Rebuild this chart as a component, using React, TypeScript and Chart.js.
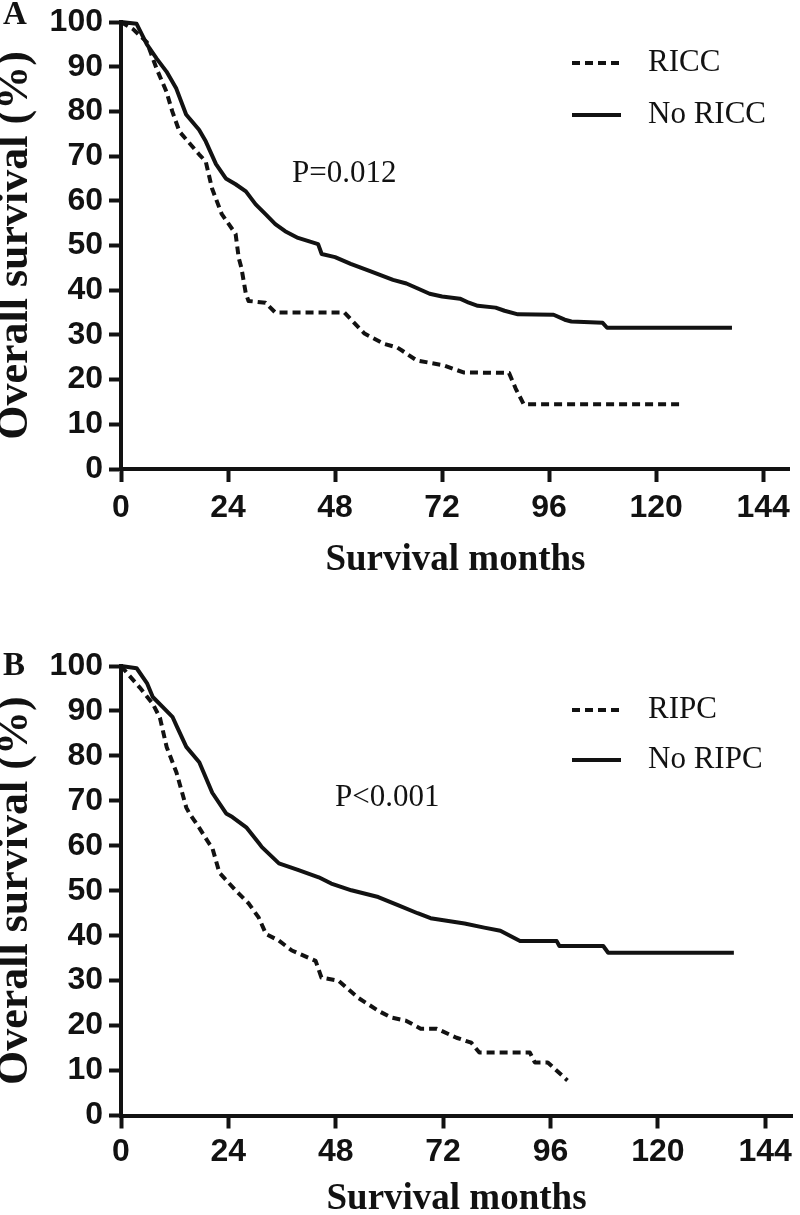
import { useEffect, useRef } from 'react';
import { Chart, registerables } from 'chart.js';

Chart.register(...registerables);

// ---------- data ----------
const MONTH_TICKS = [0, 24, 48, 72, 96, 120, 144];
const SURVIVAL_TICKS = [0, 10, 20, 30, 40, 50, 60, 70, 80, 90, 100];
const X_TITLE = 'Survival months';
const Y_TITLE = 'Overall survival (%)';

// Panel A
const A_LABELS = ['RICC', 'No RICC'];
const A_P_TEXT = 'P=0.012';
const A_RICC_MONTHS = [0, 2.7, 5.8, 8, 10.2, 11.5, 13.1, 17.5, 19, 20.4, 22.6, 25.7, 26.4, 27, 28, 28.6, 32.4, 34.6, 50.1, 52, 54.6, 59, 61.9, 63, 66.3, 72.3, 76.8, 87, 88.5, 90.3, 126];
const A_RICC_SURV = [100, 98.4, 95.5, 89.5, 84.4, 80, 75.5, 70.4, 68.8, 62.8, 57, 52.6, 47.2, 45, 39.2, 37.6, 37.2, 35, 35, 33, 30.3, 28, 27.2, 26.5, 24.3, 23.2, 21.6, 21.5, 18, 14.5, 14.5];
const A_NO_RICC_MONTHS = [0, 3.5, 5.8, 8, 10.2, 12.4, 14.6, 17.5, 19, 21.3, 23.5, 25.7, 28, 30.2, 32.4, 34.6, 36.8, 39.7, 44.2, 45, 48, 51.5, 56, 61, 64, 66.3, 69.2, 72, 76, 78, 80, 84, 86, 89, 97, 99.5, 101, 108, 109, 137];
const A_NO_RICC_SURV = [100, 99.6, 95, 91.8, 88.9, 85.1, 79.3, 75.9, 73.3, 68.2, 65, 63.7, 62.1, 59.2, 57, 54.8, 53.2, 51.7, 50.3, 48.1, 47.4, 45.9, 44.2, 42.3, 41.5, 40.5, 39.2, 38.6, 38.1, 37.2, 36.5, 36.1, 35.4, 34.6, 34.5, 33.4, 33, 32.7, 31.6, 31.6];

// Panel B
const B_LABELS = ['RIPC', 'No RIPC'];
const B_P_TEXT = 'P<0.001';
const B_RIPC_MONTHS = [0, 1.3, 4.2, 7.1, 8.7, 10.2, 12.4, 14.6, 15.3, 17.5, 19.7, 20.4, 22, 25.7, 26.4, 28.6, 30.8, 32.4, 35.3, 38.2, 43.5, 44.8, 48.6, 53, 57.5, 60.4, 63.7, 67, 70.6, 75, 78.3, 80.1, 91.4, 92.5, 95.4, 99.8];
const B_RIPC_SURV = [100, 98.5, 95.2, 91.6, 88.5, 82, 76.3, 68.5, 67.2, 64, 60.5, 59.6, 54, 50, 49.3, 47.1, 44, 40.4, 38.9, 36.7, 34.4, 30.7, 30, 26.2, 23.3, 21.8, 21.1, 19.3, 19.3, 17.3, 16.2, 14, 14, 11.8, 11.8, 7.8];
const B_NO_RIPC_MONTHS = [0, 3.5, 5.8, 7.1, 9.3, 11.5, 12.5, 14.6, 17.5, 20.4, 23.5, 24.9, 28, 30.8, 31.5, 35.3, 39.7, 44.2, 47, 51.5, 57.5, 61.9, 66.3, 69.2, 76.8, 81.2, 84.8, 89.2, 97.4, 98, 107.8, 108.9, 137];
const B_NO_RIPC_SURV = [100, 99.5, 96.2, 93.1, 90.9, 88.7, 86.5, 82, 78.6, 71.8, 67.2, 66.4, 64.1, 60.6, 59.7, 56.1, 54.6, 53, 51.6, 50.1, 48.6, 46.8, 45, 43.9, 42.7, 41.8, 41.1, 38.8, 38.8, 37.7, 37.7, 36.2, 36.2];

// ---------- styles ----------
const INK = '#121212';
const SANS = '"Liberation Sans", Arial, sans-serif';
const SERIF = '"Liberation Serif", "Times New Roman", serif';

type PanelProps = {
  letter: string;
  labels: string[];
  pText: string;
  dashedMonths: number[];
  dashedSurv: number[];
  solidMonths: number[];
  solidSurv: number[];
  height: number;
  padTop: number;
  xAxisHeight: number;
  xTitlePad: number;
  tickPad: number;
  letterY: number;
  legendY: number[];
  pPos: number[];
};

function KMPanel(p: PanelProps) {
  const ref = useRef<HTMLCanvasElement>(null);
  useEffect(() => {
    const canvas = ref.current;
    if (!canvas) return;
    const toPts = (xs: number[], ys: number[]) => xs.map((x, i) => ({ x, y: ys[i] }));
    const annot = {
      id: 'annot',
      afterDraw(chart: any) {
        const ctx = chart.ctx as CanvasRenderingContext2D;
        ctx.save();
        ctx.fillStyle = INK;
        ctx.font = `bold 33px ${SERIF}`;
        ctx.textAlign = 'left';
        ctx.textBaseline = 'middle';
        ctx.fillText(p.letter, 3, p.letterY);
        chart.data.datasets.forEach((ds: any, i: number) => {
          const y = p.legendY[i];
          ctx.beginPath();
          ctx.lineWidth = ds.borderWidth;
          ctx.strokeStyle = ds.borderColor;
          ctx.setLineDash(ds.borderDash || []);
          ctx.lineCap = 'butt';
          ctx.moveTo(572, y);
          ctx.lineTo(621, y);
          ctx.stroke();
          ctx.setLineDash([]);
          ctx.font = `31px ${SERIF}`;
          ctx.textAlign = 'left';
          ctx.textBaseline = 'middle';
          ctx.fillText(ds.label, 648, y);
        });
        ctx.font = `31px ${SERIF}`;
        ctx.textAlign = 'left';
        ctx.textBaseline = 'middle';
        ctx.fillText(p.pText, p.pPos[0], p.pPos[1]);
        ctx.restore();
      },
    };
    const common = {
      borderColor: INK,
      borderWidth: 4,
      pointRadius: 0,
      pointHoverRadius: 0,
      fill: false,
      tension: 0,
      clip: false as any,
      borderJoinStyle: 'round' as const,
      borderCapStyle: 'butt' as const,
    };
    const chart = new Chart(canvas, {
      type: 'line',
      data: {
        datasets: [
          { ...common, label: p.labels[0], data: toPts(p.dashedMonths, p.dashedSurv), borderDash: [8, 5] },
          { ...common, label: p.labels[1], data: toPts(p.solidMonths, p.solidSurv), borderDash: [] },
        ],
      },
      options: {
        responsive: false,
        maintainAspectRatio: false,
        animation: false,
        events: [],
        layout: { padding: { top: p.padTop, right: 3, bottom: 0, left: 0 } },
        plugins: { legend: { display: false }, tooltip: { enabled: false } },
        scales: {
          x: {
            type: 'linear',
            min: 0,
            max: 150,
            afterBuildTicks: (s: any) => { s.ticks = MONTH_TICKS.map((v) => ({ value: v })); },
            afterFit: (s: any) => { s.height = p.xAxisHeight; },
            ticks: {
              color: INK,
              font: { family: SANS, size: 32, weight: 'bold', lineHeight: 1 },
              padding: p.tickPad,
              maxRotation: 0,
              autoSkip: false,
            },
            grid: { display: true, drawOnChartArea: false, drawTicks: true, tickLength: 13, tickWidth: 4, tickColor: INK },
            border: { display: true, color: INK, width: 4 },
            title: {
              display: true,
              text: X_TITLE,
              color: INK,
              font: { family: SERIF, size: 37, weight: 'bold', lineHeight: 1 },
              padding: { top: 0, bottom: p.xTitlePad },
            },
          },
          y: {
            type: 'linear',
            min: 0,
            max: 100,
            afterBuildTicks: (s: any) => { s.ticks = SURVIVAL_TICKS.map((v) => ({ value: v })); },
            afterFit: (s: any) => { s.width = 121; },
            ticks: {
              color: INK,
              font: { family: SANS, size: 32, weight: 'bold', lineHeight: 1 },
              padding: 6,
              autoSkip: false,
            },
            grid: { display: true, drawOnChartArea: false, drawTicks: true, tickLength: 12, tickWidth: 4, tickColor: INK },
            border: { display: true, color: INK, width: 4 },
            title: {
              display: true,
              text: Y_TITLE,
              color: INK,
              font: { family: SERIF, size: 44, weight: 'bold', lineHeight: 1 },
              padding: { top: -6, bottom: 0 },
            },
          },
        },
      } as any,
      plugins: [annot],
    });
    return () => chart.destroy();
  }, []);
  return <canvas ref={ref} width={800} height={p.height} style={{ display: 'block', width: 800, height: p.height }} />;
}

export default function App() {
  return (
    <div style={{ position: 'absolute', left: 0, top: 0, width: 800, height: 1215, background: '#fff' }}>
      <KMPanel
        letter="A"
        labels={A_LABELS}
        pText={A_P_TEXT}
        dashedMonths={A_RICC_MONTHS}
        dashedSurv={A_RICC_SURV}
        solidMonths={A_NO_RICC_MONTHS}
        solidSurv={A_NO_RICC_SURV}
        height={600}
        padTop={20}
        xAxisHeight={131}
        xTitlePad={21}
        tickPad={10}
        letterY={15}
        legendY={[63, 115]}
        pPos={[292, 174]}
      />
      <KMPanel
        letter="B"
        labels={B_LABELS}
        pText={B_P_TEXT}
        dashedMonths={B_RIPC_MONTHS}
        dashedSurv={B_RIPC_SURV}
        solidMonths={B_NO_RIPC_MONTHS}
        solidSurv={B_NO_RIPC_SURV}
        height={615}
        padTop={66}
        xAxisHeight={99.5}
        xTitlePad={-3}
        tickPad={8}
        letterY={66}
        legendY={[110, 160]}
        pPos={[335, 198]}
      />
    </div>
  );
}
